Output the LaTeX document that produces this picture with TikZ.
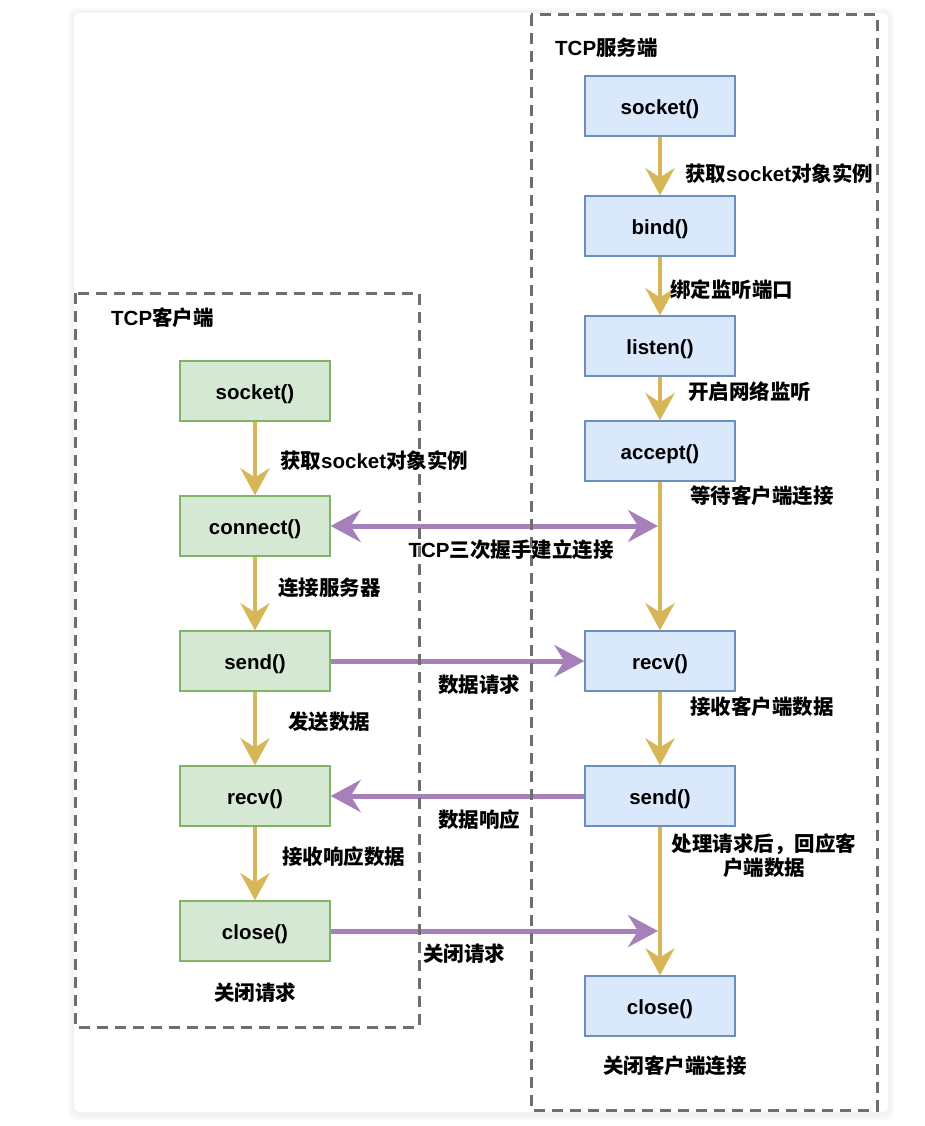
\documentclass[tikz,border=0pt]{standalone}
\usepackage{fontspec}
\setmainfont{Liberation Sans}
\newfontfamily\cjk{Noto Sans CJK SC}
\usetikzlibrary{arrows.meta}
\definecolor{cgreen}{HTML}{D5E8D4}
\definecolor{cgreenB}{HTML}{82B366}
\definecolor{cblue}{HTML}{DAE8FC}
\definecolor{cblueB}{HTML}{6C8EBF}
\definecolor{cyellow}{HTML}{D6B656}
\definecolor{cpurple}{HTML}{A680B8}
\definecolor{cdash}{HTML}{6E6E6E}
\tikzset{
  ytip/.tip={Stealth[length=27pt,width=29pt,inset=9pt]},
  ptip/.tip={Stealth[length=30pt,width=32pt,inset=10pt]},
  base/.style={font=\fontsize{20.5}{24}\selectfont\bfseries},
  boxbase/.style={base, line width=1.3pt, minimum width=150pt, minimum height=60pt, text height=18pt, text depth=1.5pt, inner sep=0pt},
  cbox/.style={boxbase, draw=cgreenB, fill=cgreen},
  sbox/.style={boxbase, draw=cblueB, fill=cblue},
  lbl/.style={base, inner sep=0pt},
  yarrow/.style={draw=cyellow, line width=4.5pt, -{ytip}},
  parrow/.style={draw=cpurple, line width=5pt},
  container/.style={draw=cdash, line width=3pt, dash pattern=on 11pt off 7pt}
}
\begin{document}
\begin{tikzpicture}[x=1pt,y=-1pt]
\useasboundingbox (0,0) rectangle (924,1126);
% card with soft shadow
\fill[black!2, rounded corners=8pt] (68,8) rectangle (894,1120);
\fill[black!4, rounded corners=8pt] (70,10) rectangle (892,1118);
\fill[black!5, rounded corners=7pt] (72,12) rectangle (890,1115);
\fill[white, rounded corners=6pt] (74,13) rectangle (888,1112);

% server nodes
\node[sbox] (s1) at (660,106) {socket()};
\node[sbox] (s2) at (660,226) {bind()};
\node[sbox] (s3) at (660,346) {listen()};
\node[sbox] (s4) at (660,451) {accept()};
\node[sbox] (s5) at (660,661) {recv()};
\node[sbox] (s6) at (660,796) {send()};
\node[sbox] (s7) at (660,1006) {close()};

% client nodes
\node[cbox] (c1) at (255,391) {socket()};
\node[cbox] (c2) at (255,526) {connect()};
\node[cbox] (c3) at (255,661) {send()};
\node[cbox] (c4) at (255,796) {recv()};
\node[cbox] (c5) at (255,931) {close()};

% server yellow arrows
\draw[yarrow] (s1) -- (s2);
\draw[yarrow] (s2) -- (s3);
\draw[yarrow] (s3) -- (s4);
\draw[yarrow] (s4) -- (s5);
\draw[yarrow] (s5) -- (s6);
\draw[yarrow] (s6) -- (s7);

% client yellow arrows
\draw[yarrow] (c1) -- (c2);
\draw[yarrow] (c2) -- (c3);
\draw[yarrow] (c3) -- (c4);
\draw[yarrow] (c4) -- (c5);

% purple arrows
\coordinate (h1) at (658,526);
\coordinate (h2) at (658,931);
\draw[parrow, {ptip}-{ptip}] (c2.east) -- (h1);
\draw[parrow, -{ptip}] (c3.east) -- (s5.west);
\draw[parrow, -{ptip}] (s6.west) -- (c4.east);
\draw[parrow, -{ptip}] (c5.east) -- (h2);

% containers
\draw[container] (531,15) rectangle (877,1110);
\draw[container] (75,293) rectangle (419,1027);

% titles
\node[lbl, anchor=west] (tS) at (555,48) {TCP{\cjk 服务端}};
\node[lbl, anchor=west] (tC) at (111,318) {TCP{\cjk 客户端}};

% server labels
\node[lbl, anchor=west] (l1) at (685,174) {{\cjk 获取}socket{\cjk 对象实例}};
\node[lbl, anchor=west] (l2) at (670,290) {\cjk 绑定监听端口};
\node[lbl, anchor=west] (l3) at (688,392) {\cjk 开启网络监听};
\node[lbl, anchor=west] (l4) at (690,496) {\cjk 等待客户端连接};
\node[lbl, anchor=west] (l5) at (690,707) {\cjk 接收客户端数据};
\node[lbl, align=center, font=\fontsize{20.5}{24}\selectfont\bfseries\cjk] (l6) at (764,856) {处理请求后，回应客\\户端数据};
\node[lbl] (l7) at (675,1066) {\cjk 关闭客户端连接};

% client labels
\node[lbl, anchor=west] (m1) at (280,461) {{\cjk 获取}socket{\cjk 对象实例}};
\node[lbl, anchor=west] (m2) at (278,588) {\cjk 连接服务器};
\node[lbl, anchor=west] (m3) at (288,722) {\cjk 发送数据};
\node[lbl, anchor=west] (m4) at (282,857) {\cjk 接收响应数据};
\node[lbl] (m5) at (255,993) {\cjk 关闭请求};

% middle labels
\node[lbl] (n1) at (511,550) {TCP{\cjk 三次握手建立连接}};
\node[lbl] (n2) at (479,685) {\cjk 数据请求};
\node[lbl] (n3) at (479,820) {\cjk 数据响应};
\node[lbl] (n4) at (464,954) {\cjk 关闭请求};
\end{tikzpicture}
\end{document}
